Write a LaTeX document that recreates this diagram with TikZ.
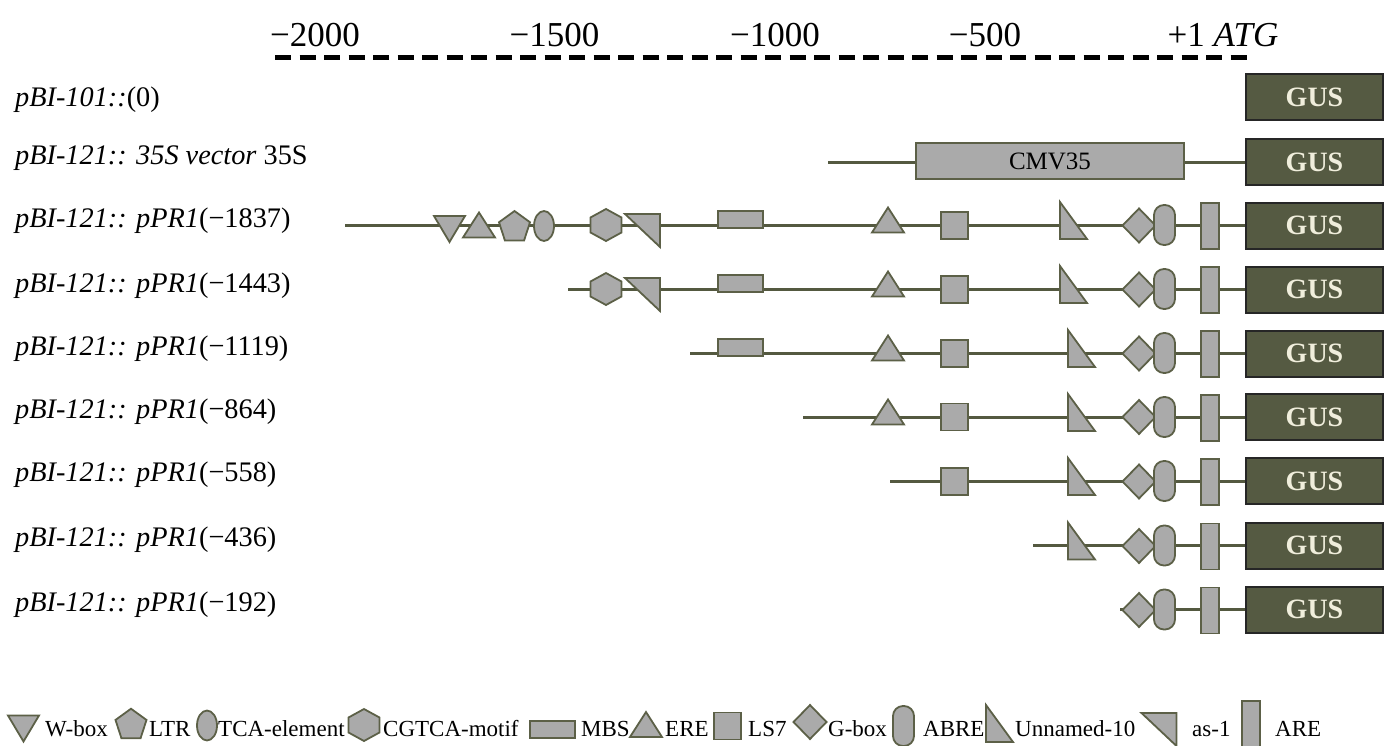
\documentclass[tikz,border=0pt]{standalone}
\usepackage{fontspec}
\setmainfont{Liberation Serif}
\definecolor{lineclr}{HTML}{545940}
\definecolor{edgeclr}{HTML}{5C6047}
\definecolor{elemfill}{HTML}{AAAAAA}
\definecolor{gusfill}{HTML}{555A42}
\definecolor{gustext}{HTML}{F0EEDC}
\newcommand\lblfont{\fontsize{28.3}{31}\selectfont}
\newcommand\rulerfont{\fontsize{35}{38}\selectfont}
\newcommand\gusfont{\fontsize{28}{30}\selectfont\bfseries}
\newcommand\legfont{\fontsize{23}{25}\selectfont}
\newcommand\cmvfont{\fontsize{25}{27}\selectfont}
\tikzset{
  backbone/.style={line width=3pt, draw=lineclr},
  elem/.style={draw=edgeclr, fill=elemfill, line width=1.8pt, line join=miter},
  gusbox/.style={draw=black!85, fill=gusfill, line width=2pt, minimum width=137pt,
    minimum height=46pt, inner sep=0pt, text=gustext, font=\gusfont},
  cmvbox/.style={elem, minimum width=268pt, minimum height=36pt, inner sep=0pt, font=\cmvfont},
  lbl/.style={anchor=base west, inner sep=0pt, font=\lblfont},
  rulerlbl/.style={anchor=base, inner sep=0pt, font=\rulerfont},
  leglbl/.style={anchor=base west, inner sep=0pt, font=\legfont},
  ruler/.style={line width=5pt, dash pattern=on 16pt off 8.5pt},
  wbox/.pic={\path[elem] (-15.5,-13) -- (15.5,-13) -- (0,13) -- cycle;},
  ere/.pic={\path[elem] (-16,12.5) -- (16,12.5) -- (0,-12.5) -- cycle;},
  ltr/.pic={\path[elem] (0,-16.3) -- (15.5,-5.04) -- (9.58,13.19) -- (-9.58,13.19) -- (-15.5,-5.04) -- cycle;},
  tca/.pic={\path[elem] (0,0) ellipse [x radius=10, y radius=15];},
  hexa/.pic={\path[elem] (0,-16) -- (15.5,-7.5) -- (15.5,7.5) -- (0,16) -- (-15.5,7.5) -- (-15.5,-7.5) -- cycle;},
  asone/.pic={\path[elem] (-17.5,-11) -- (17.5,-11) -- (17.5,22) -- cycle;},
  mbs/.pic={\path[elem] (-22.5,-14) rectangle (22.5,3);},
  lsseven/.pic={\path[elem] (-13.5,-13.5) rectangle (13.5,13.5);},
  unnamed/.pic={\path[elem] (0,-23) -- (0,14) -- (27,14) -- cycle;},
  gboxd/.pic={\path[elem] (-16.5,0) -- (0,-17) -- (16.5,0) -- (0,17) -- cycle;},
  abre/.pic={\path[elem, rounded corners=10pt] (-10.5,-20) rectangle (10.5,20);},
  are/.pic={\path[elem] (-9,-22) rectangle (9,24);},
}
\begin{document}
\begin{tikzpicture}[x=1pt, y=-1pt]
\useasboundingbox (0,0) rectangle (1390,745);

% ruler
\node[rulerlbl] (t2000) at (315,46) {−2000};
\node[rulerlbl] (t1500) at (554.5,46) {−1500};
\node[rulerlbl] (t1000) at (775,46) {−1000};
\node[rulerlbl] (t500) at (985,46) {−500};
\node[rulerlbl] (tatg) at (1223,46) {+1 \textit{ATG}};
\coordinate (r0) at (275,57);
\coordinate (r1) at (1253,57);
\draw[ruler] (r0) -- (r1);

% labels
\node[lbl] (l1) at (15,106) {\textit{pBI-101::}(0)};
\node[lbl] (l2) at (15,164) {\textit{pBI-121:: 35S vector} 35S};
\node[lbl] (l3) at (15,227) {\textit{pBI-121:: pPR1}(−1837)};
\node[lbl] (l4) at (15,292) {\textit{pBI-121:: pPR1}(−1443)};
\node[lbl] (l5) at (15,355) {\textit{pBI-121:: pPR1}(−1119)};
\node[lbl] (l6) at (15,418) {\textit{pBI-121:: pPR1}(−864)};
\node[lbl] (l7) at (15,481) {\textit{pBI-121:: pPR1}(−558)};
\node[lbl] (l8) at (15,546) {\textit{pBI-121:: pPR1}(−436)};
\node[lbl] (l9) at (15,611) {\textit{pBI-121:: pPR1}(−192)};

% GUS boxes
\node[gusbox] (g1) at (1314.5,97) {GUS};
\node[gusbox] (g2) at (1314.5,162) {GUS};
\node[gusbox] (g3) at (1314.5,225.5) {GUS};
\node[gusbox] (g4) at (1314.5,289.5) {GUS};
\node[gusbox] (g5) at (1314.5,353.5) {GUS};
\node[gusbox] (g6) at (1314.5,417) {GUS};
\node[gusbox] (g7) at (1314.5,481) {GUS};
\node[gusbox] (g8) at (1314.5,545.5) {GUS};
\node[gusbox] (g9) at (1314.5,609.5) {GUS};

% row 2
\coordinate (s2) at (828,162);
\node[cmvbox] (cmv) at (1050,161) {CMV35};
\draw[backbone] (s2) -- (cmv.west |- s2);
\draw[backbone] (cmv.east |- s2) -- (g2.west |- s2);
\node[cmvbox] at (cmv) {CMV35};

% row 3
\coordinate (s3) at (345,225);
\draw[backbone] (s3) -- (g3.west |- s3);
\pic at (449.5,229) {wbox};
\pic at (479,225) {ere};
\pic at (514.5,227.3) {ltr};
\pic at (544,226) {tca};
\pic at (606,225) {hexa};
\pic at (642.5,225) {asone};
\pic at (740.5,225) {mbs};
\pic at (888,220) {ere};
\pic at (954.5,225.5) {lsseven};
\pic at (1060,225) {unnamed};
\pic at (1139,225.5) {gboxd};
\pic at (1164.5,225) {abre};
\pic at (1210,225) {are};

% row 4
\coordinate (s4) at (568,289);
\draw[backbone] (s4) -- (g4.west |- s4);
\pic at (606,289) {hexa};
\pic at (642.5,289) {asone};
\pic at (740.5,289) {mbs};
\pic at (888,284) {ere};
\pic at (954.5,289.5) {lsseven};
\pic at (1060,289) {unnamed};
\pic at (1139,289.5) {gboxd};
\pic at (1164.5,289) {abre};
\pic at (1210,289) {are};

% row 5
\coordinate (s5) at (690,353);
\draw[backbone] (s5) -- (g5.west |- s5);
\pic at (740.5,353) {mbs};
\pic at (888,348) {ere};
\pic at (954.5,353.5) {lsseven};
\pic at (1068,353) {unnamed};
\pic at (1139,353.5) {gboxd};
\pic at (1164.5,353) {abre};
\pic at (1210,353) {are};

% row 6
\coordinate (s6) at (803,417);
\draw[backbone] (s6) -- (g6.west |- s6);
\pic at (888,412) {ere};
\pic at (954.5,417) {lsseven};
\pic at (1068,417) {unnamed};
\pic at (1139,417) {gboxd};
\pic at (1164.5,417) {abre};
\pic at (1210,417) {are};

% row 7
\coordinate (s7) at (890,481);
\draw[backbone] (s7) -- (g7.west |- s7);
\pic at (954.5,481.5) {lsseven};
\pic at (1068,481) {unnamed};
\pic at (1139,481.5) {gboxd};
\pic at (1164.5,481) {abre};
\pic at (1210,481) {are};

% row 8
\coordinate (s8) at (1033,545.5);
\draw[backbone] (s8) -- (g8.west |- s8);
\pic at (1068,545.5) {unnamed};
\pic at (1139,546) {gboxd};
\pic at (1164.5,545.5) {abre};
\pic at (1210,545.5) {are};

% row 9
\coordinate (s9) at (1120,609.5);
\draw[backbone] (s9) -- (g9.west |- s9);
\pic at (1139,610) {gboxd};
\pic at (1164.5,609.5) {abre};
\pic at (1210,609.5) {are};

% legend
\pic at (23.5,728.5) {wbox};
\node[leglbl] (k1) at (45,736) {W-box};
\pic at (131,725) {ltr};
\node[leglbl] (k2) at (149,736) {LTR};
\pic at (207,725.5) {tca};
\node[leglbl] (k3) at (218,736) {TCA-element};
\pic at (364,725) {hexa};
\node[leglbl] (k4) at (383,736) {CGTCA-motif};
\pic at (552.5,735) {mbs};
\node[leglbl] (k5) at (581,736) {MBS};
\pic at (646,724.5) {ere};
\node[leglbl] (k6) at (665,736) {ERE};
\pic at (727.5,726) {lsseven};
\node[leglbl] (k7) at (748,736) {LS7};
\pic at (810,722) {gboxd};
\node[leglbl] (k8) at (828,736) {G-box};
\pic at (903.5,726) {abre};
\node[leglbl] (k9) at (923,736) {ABRE};
\pic at (986,728) {unnamed};
\node[leglbl] (k10) at (1015,736) {Unnamed-10};
\pic at (1159,724) {asone};
\node[leglbl] (k11) at (1192,736) {as-1};
\pic at (1251,723) {are};
\node[leglbl] (k12) at (1275,736) {ARE};
\end{tikzpicture}
\end{document}
